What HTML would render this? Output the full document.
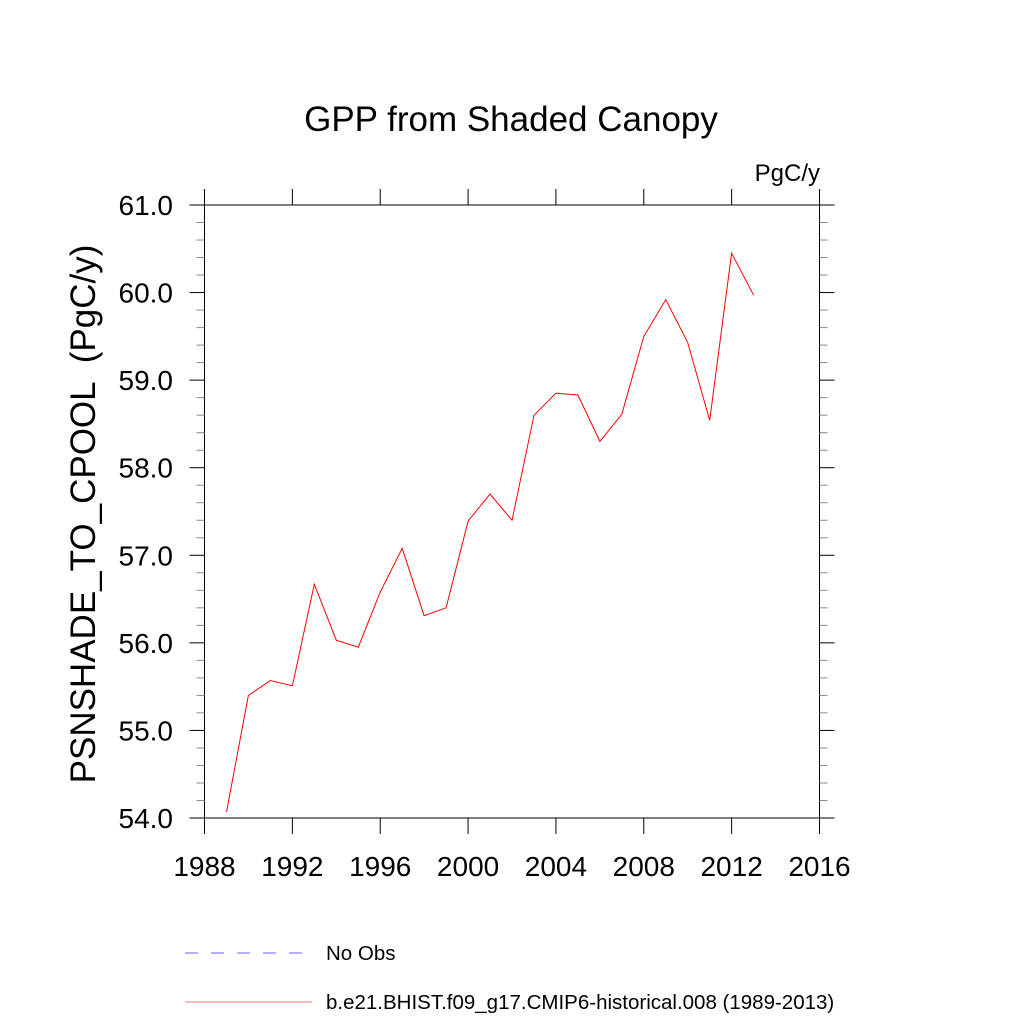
<!DOCTYPE html>
<html><head><meta charset="utf-8"><style>
html,body{margin:0;padding:0;background:#fff;width:1024px;height:1024px;overflow:hidden}
svg{display:block;font-family:"Liberation Sans",Arial,sans-serif}
</style></head><body>
<svg id="chart" width="1024" height="1024" viewBox="0 0 1024 1024">
<text x="511" y="131" font-size="35" text-anchor="middle">GPP from Shaded Canopy</text>
<text x="820" y="181" font-size="24" text-anchor="end">PgC/y</text>
<text transform="translate(95,514) rotate(-90)" font-size="35" text-anchor="middle" style="white-space:pre" xml:space="preserve">PSNSHADE_TO_CPOOL  (PgC/y)</text>
<g id="axes"></g>
<g id="series"></g>
<g>
<line x1="185" y1="953" x2="314" y2="953" stroke="#6666ff" stroke-width="1" stroke-dasharray="13,13"/>
<text x="326" y="960" font-size="20.5">No Obs</text>
<line x1="185" y1="1002" x2="312" y2="1002" stroke="#e77" stroke-width="1"/>
<text x="326" y="1009" font-size="20.5">b.e21.BHIST.f09_g17.CMIP6-historical.008 (1989-2013)</text>
</g>
</svg>
<script>
const years = [1989,1990,1991,1992,1993,1994,1995,1996,1997,1998,1999,2000,2001,2002,2003,2004,2005,2006,2007,2008,2009,2010,2011,2012,2013];
const values = [54.07,55.40,55.57,55.51,56.67,56.03,55.95,56.58,57.08,56.31,56.40,57.39,57.70,57.40,58.60,58.85,58.83,58.30,58.61,59.50,59.92,59.43,58.54,60.45,59.97];
const xTicks = [1988,1992,1996,2000,2004,2008,2012,2016];
const yTicks = [54,55,56,57,58,59,60,61];
const yTickLabels = ["54.0","55.0","56.0","57.0","58.0","59.0","60.0","61.0"];

const L=204.5,R=819.5,T=205,B=818;
const xMin=1988,xMax=2016,yMin=54,yMax=61;
const xs=v=>L+(v-xMin)/(xMax-xMin)*(R-L);
const ys=v=>B-(v-yMin)/(yMax-yMin)*(B-T);
const NS='http://www.w3.org/2000/svg';
const ax=document.getElementById('axes');
function mk(tag,attrs,parent){const e=document.createElementNS(NS,tag);for(const k in attrs)e.setAttribute(k,attrs[k]);parent.appendChild(e);return e;}

let e;
e=mk('line',{x1:L,y1:T,x2:L,y2:B,stroke:'#000','stroke-width':1},ax);


e=mk('line',{x1:R,y1:T,x2:R,y2:B,stroke:'#000','stroke-width':1},ax);



xTicks.forEach(t=>{
  const x=xs(t);
  e=mk('line',{x1:x,y1:B,x2:x,y2:B+16,stroke:'#000'},ax);
  
  
  e=mk('line',{x1:x,y1:T,x2:x,y2:T-16,stroke:'#000'},ax);
  
  
  e=mk('text',{x:x,y:876,'font-size':28,'text-anchor':'middle'},ax);
  e.textContent=t;
  
  
});
yTicks.forEach((t,i)=>{
  const y=ys(t);
  e=mk('line',{x1:L-15,y1:y,x2:R+15,y2:y,stroke:'#000','stroke-width':(i===0||i===yTicks.length-1)?1:0},ax);
  
  
  e=mk('line',{x1:L-15,y1:y,x2:L,y2:y,stroke:'#000'},ax);
  
  
  e=mk('line',{x1:R,y1:y,x2:R+15,y2:y,stroke:'#000'},ax);
  
  
  e=mk('text',{x:173,y:y+10,'font-size':28,'text-anchor':'end'},ax);
  e.textContent=yTickLabels[i];
  
  
  if(i<yTicks.length-1){
    for(let k=1;k<5;k++){
      const yy=ys(t+k*0.2);
      e=mk('line',{x1:L-8,y1:yy,x2:L,y2:yy,stroke:'#888'},ax);
      
      
      e=mk('line',{x1:R,y1:yy,x2:R+8,y2:yy,stroke:'#888'},ax);
      
      
    }
  }
});

const pts=years.map((yr,i)=>xs(yr).toFixed(1)+','+ys(values[i]).toFixed(1)).join(' ');
e=mk('polyline',{points:pts,fill:'none',stroke:'#ff0000','stroke-width':1},document.getElementById('series'));


</script>
</body></html>
